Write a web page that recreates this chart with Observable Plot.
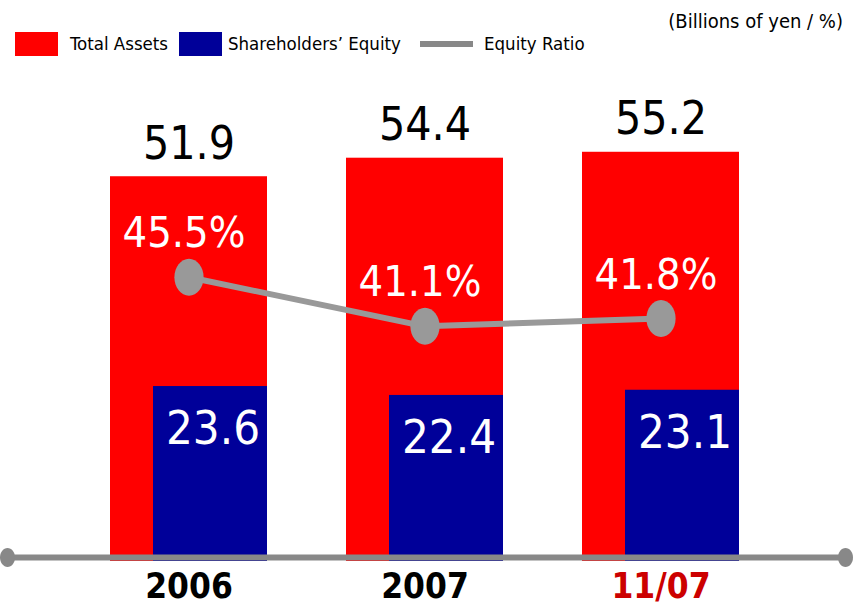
<!DOCTYPE html>
<html>
<head>
<meta charset="utf-8">
<script src="https://cdn.jsdelivr.net/npm/d3@7"></script>
<script src="https://cdn.jsdelivr.net/npm/@observablehq/plot@0.6"></script>
<style>
  html, body { margin: 0; padding: 0; background: #fff; }
  body { width: 857px; height: 606px; overflow: hidden; font-family: "DejaVu Sans Condensed", "DejaVu Sans", sans-serif; font-stretch: condensed; }
  #header { position: relative; height: 68px; }
  .note { position: absolute; right: 14px; top: 9px; font-size: 20px; color: #000; }
  .sw { position: absolute; top: 32px; width: 43px; height: 24px; }
  .lg { position: absolute; top: 33px; font-size: 18.5px; color: #000; white-space: nowrap; }
  .ln { position: absolute; top: 41px; left: 420px; width: 53px; height: 6px; background: #888; }
  #chart svg { display: block; }
</style>
</head>
<body>
<div id="header">
  <div class="note">(Billions of yen / %)</div>
  <div class="sw" style="left:15px;background:#ff0000"></div>
  <div class="lg" style="left:70px">Total Assets</div>
  <div class="sw" style="left:179px;background:#000099"></div>
  <div class="lg" style="left:228px">Shareholders’ Equity</div>
  <div class="ln"></div>
  <div class="lg" style="left:484px">Equity Ratio</div>
</div>
<div id="chart"></div>
<script>
const periods = ["2006", "2007", "11/07"];
const totalAssets = [51.9, 54.4, 55.2];
const shareholdersEquity = [23.6, 22.4, 23.1];
const equityRatio = [45.5, 41.1, 41.8];

const RED = "#ff0000", BLUE = "#000099", GRAY = "#999999", AXIS = "#888888";
const FONT = "'DejaVu Sans Condensed', 'DejaVu Sans', sans-serif";

const rows = periods.map((p, i) => ({
  period: p,
  assets: totalAssets[i],
  equity: shareholdersEquity[i],
  ratio: equityRatio[i]
}));

// secondary (percent) axis mapped onto the bar value axis
const ratioToY = d3.scaleLinear([20, 50], [0, 45.1]);

const ellipse = {
  draw(ctx, size) {
    const r = Math.sqrt(size / Math.PI);
    const rx = r * 0.79, ry = r, k = 0.5523;
    ctx.moveTo(rx, 0);
    ctx.bezierCurveTo(rx, ry * k, rx * k, ry, 0, ry);
    ctx.bezierCurveTo(-rx * k, ry, -rx, ry * k, -rx, 0);
    ctx.bezierCurveTo(-rx, -ry * k, -rx * k, -ry, 0, -ry);
    ctx.bezierCurveTo(rx * k, -ry, rx, -ry * k, rx, 0);
    ctx.closePath();
  }
};

const chart = Plot.plot({
  width: 857,
  height: 538,
  marginLeft: 7,
  marginRight: 12,
  marginTop: 0,
  marginBottom: 45,
  style: { fontFamily: FONT, background: "#fff", overflow: "visible" },
  x: { domain: periods, range: [69.25, 778.75], paddingInner: 0.3362, paddingOuter: 0.1681, axis: null },
  y: { domain: [0, 66.5], axis: null },
  marks: [
    Plot.barY(rows, { x: "period", y: "assets", fill: RED }),
    Plot.barY(rows, { x: "period", y: "equity", fill: BLUE, insetLeft: 43 }),
    Plot.ruleY([0], { stroke: AXIS, strokeWidth: 6, dy: -4 }),
    Plot.dot([0], { y: d => d, frameAnchor: "left", symbol: ellipse, r: 9.5, fill: AXIS, stroke: null, dy: -4 }),
    Plot.dot([0], { y: d => d, frameAnchor: "right", symbol: ellipse, r: 9.5, fill: AXIS, stroke: null, dy: -4 }),
    Plot.line(rows, { x: "period", y: d => ratioToY(d.ratio), stroke: GRAY, strokeWidth: 6 }),
    Plot.dot(rows, { x: "period", y: d => ratioToY(d.ratio), symbol: ellipse, r: 18.5, fill: GRAY, stroke: null }),
    Plot.text(rows, { x: "period", y: "assets", text: d => d.assets.toFixed(1), lineAnchor: "bottom", dy: -18, fontSize: 46, fill: "#000" }),
    Plot.text(rows, { x: "period", y: d => ratioToY(d.ratio), text: d => d.ratio.toFixed(1) + "%", lineAnchor: "bottom", dy: -30, dx: -5, fontSize: 43, fill: "#fff" }),
    Plot.text(rows, { x: "period", y: "equity", text: d => d.equity.toFixed(1), lineAnchor: "top", dy: 24, dx: 24, fontSize: 47, fill: "#fff" }),
    Plot.text(rows, { x: "period", y: () => 0, text: "period", lineAnchor: "bottom", dy: 36, dx: 0, fontSize: 35, fontWeight: "bold", fill: d => d.period === "11/07" ? "#cc0000" : "#000" })
  ]
});
document.getElementById("chart").appendChild(chart);
</script>
</body>
</html>
